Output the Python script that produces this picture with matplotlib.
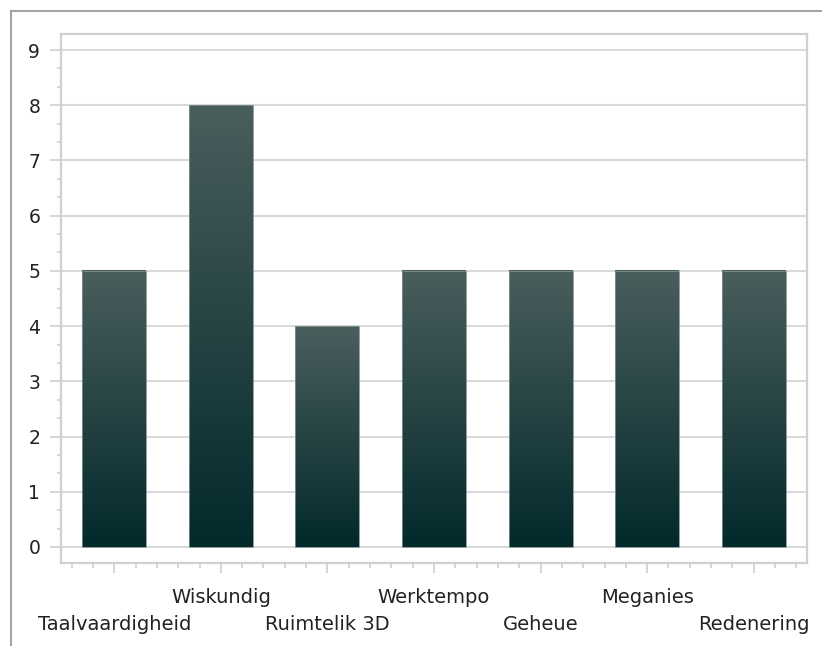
import matplotlib

matplotlib.use("Agg")
import matplotlib.pyplot as plt
import numpy as np
from matplotlib.colors import LinearSegmentedColormap
from matplotlib.lines import Line2D
from matplotlib.ticker import MultipleLocator

# --- data ---
categories = ["Taalvaardigheid", "Wiskundig", "Ruimtelik 3D", "Werktempo",
              "Geheue", "Meganies", "Redenering"]
scores = [5, 8, 4, 5, 5, 5, 5]
y_ticks = list(range(0, 10))

# --- styling ---
TOP = "#4a5e5d"
BOTTOM = "#03292b"
GRID = "#d9d9d9"
SPINE = "#d0d0d0"
FRAME = "#a3a3a3"
TEXT = "#222222"

plt.rcParams["font.family"] = "DejaVu Sans"

fig = plt.figure(figsize=(8.22, 6.46), dpi=100, facecolor="white")
W, H = 822, 646
ax = fig.add_axes([61 / W, 1 - 563 / H, (807 - 61) / W, (563 - 34) / H])

cmap = LinearSegmentedColormap.from_list("bar", [BOTTOM, TOP])
grad = np.linspace(0, 1, 256).reshape(-1, 1)

x = np.arange(len(categories))
width = 0.6
bars = ax.bar(x, scores, width=width, color="none", edgecolor="#7f9292",
              linewidth=0.6, zorder=4)
for rect in bars:
    x0 = rect.get_x()
    h = rect.get_height()
    ax.imshow(grad, cmap=cmap, origin="lower", aspect="auto",
              extent=(x0, x0 + rect.get_width(), 0, h), zorder=3)

ax.set_xlim(-0.5, 6.5)
ax.set_ylim(-0.29, 9.29)

ax.set_yticks(y_ticks)
ax.yaxis.set_minor_locator(MultipleLocator(1 / 3))
ax.set_xticks(x)
ax.set_xticklabels([])
ax.xaxis.set_minor_locator(MultipleLocator(0.2))

ax.grid(axis="y", color=GRID, linewidth=1.5, zorder=0)
ax.set_axisbelow(True)
for s in ax.spines.values():
    s.set_color(SPINE)
    s.set_linewidth(1.6)

ax.tick_params(axis="y", which="major", length=8, width=1.2, color=SPINE,
               labelsize=13.5, labelcolor=TEXT, pad=7)
ax.tick_params(axis="y", which="minor", length=3, width=1.2, color=SPINE)
ax.tick_params(axis="x", which="major", length=7, width=1.2, color=SPINE)
ax.tick_params(axis="x", which="minor", length=3.6, width=1.2, color=SPINE)

# staggered category labels
for i, name in enumerate(categories):
    off = -24.5 if i % 2 == 1 else -44.6
    ax.annotate(name, xy=(i, 0), xycoords=("data", "axes fraction"),
                xytext=(0, off), textcoords="offset points",
                ha="center", va="center", fontsize=14, color=TEXT,
                annotation_clip=False)

# outer frame (left and top edges)
fig.add_artist(Line2D([11 / W, 11 / W], [0, 1 - 11 / H], transform=fig.transFigure,
                      color=FRAME, linewidth=1.5))
fig.add_artist(Line2D([11 / W, 1], [1 - 11 / H, 1 - 11 / H], transform=fig.transFigure,
                      color=FRAME, linewidth=1.5))

fig.savefig("out.png", dpi=100, facecolor="white")
